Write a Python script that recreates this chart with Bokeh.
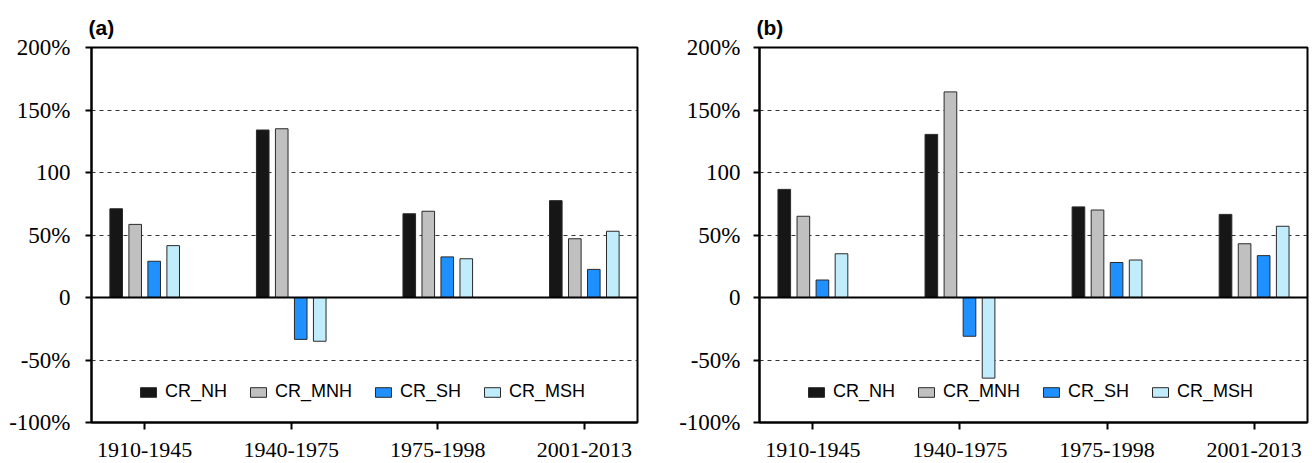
from bokeh.plotting import figure
from bokeh.layouts import row
from bokeh.models import Range1d, FixedTicker, Span, ColumnDataSource
from bokeh.transform import dodge
from bokeh.embed import file_html
from bokeh.resources import INLINE

categories = ["1910-1945", "1940-1975", "1975-1998", "2001-2013"]
series_names = ["CR_NH", "CR_MNH", "CR_SH", "CR_MSH"]
series_colors = ["#161616", "#c0c0c0", "#1e90ff", "#c1ecfb"]

a_nh = [71, 134, 67, 77.5]
a_mnh = [58.5, 135, 69, 47]
a_sh = [29, -33.5, 32.5, 22.5]
a_msh = [41.5, -35, 31, 53]

b_nh = [86.5, 130.5, 72.5, 66.5]
b_mnh = [65, 164.5, 70, 43]
b_sh = [14, -31, 28, 33.5]
b_msh = [35, -64.5, 30, 57]

y_ticks = [-100, -50, 0, 50, 100, 150, 200]
y_tick_labels = ["-100%", "-50%", "0", "50%", "100", "150%", "200%"]
grid_ticks = [-50, 50, 100, 150]

offsets = [-0.1945, -0.0648, 0.0648, 0.1945]
bar_width = 0.086


def make_panel(label, series, left_border, right_border, label_standoff):
    p = figure(width=656, height=463, output_backend="svg", toolbar_location=None,
               x_range=Range1d(-0.363, 3.363), y_range=Range1d(-100, 200),
               min_border_left=left_border, min_border_right=right_border,
               min_border_top=47, min_border_bottom=41,
               background_fill_color="white", border_fill_color="white")
    src = ColumnDataSource(dict(x=list(range(len(categories))),
                                **{n: v for n, v in zip(series_names, series)}))
    for name, col, off in zip(series_names, series_colors, offsets):
        p.vbar(x=dodge("x", off, range=p.x_range), top=name, bottom=0, width=bar_width,
               source=src, fill_color=col, line_color="#2a2a2a", line_width=1,
               legend_label=name)

    # zero line
    p.add_layout(Span(location=0, dimension="width", line_color="black", line_width=2))

    # axes
    p.xaxis.ticker = FixedTicker(ticks=list(range(len(categories))))
    p.xaxis.major_label_overrides = {i: c for i, c in enumerate(categories)}
    p.yaxis.ticker = FixedTicker(ticks=y_ticks)
    p.yaxis.major_label_overrides = dict(zip(y_ticks, y_tick_labels))
    for ax in (p.xaxis[0], p.yaxis[0]):
        ax.axis_line_width = 2
        ax.axis_line_color = "black"
        ax.major_tick_line_color = "black"
        ax.major_tick_line_width = 2
        ax.major_tick_in = 0
        ax.minor_tick_line_color = None
        ax.major_label_text_font = "Liberation Serif"
        ax.major_label_text_color = "black"
    p.xaxis.major_label_text_font_size = "22px"
    p.yaxis.major_label_text_font_size = "23px"
    p.xaxis.major_tick_out = 7
    p.xaxis.major_label_standoff = 13
    p.yaxis.major_tick_out = 6
    p.yaxis.major_label_standoff = label_standoff

    # grid
    p.xgrid.grid_line_color = None
    p.ygrid.ticker = FixedTicker(ticks=grid_ticks)
    p.ygrid.grid_line_color = "#333333"
    p.ygrid.grid_line_dash = "4 4"
    p.ygrid.grid_line_width = 1

    p.outline_line_color = "black"
    p.outline_line_width = 2
    p.outline_line_alpha = 1

    # legend
    lg = p.legend[0]
    lg.orientation = "horizontal"
    lg.location = (47, 20)
    lg.padding = 0
    lg.margin = 0
    lg.spacing = 21
    lg.label_standoff = 7
    lg.glyph_width = 20
    lg.glyph_height = 12
    lg.border_line_alpha = 0
    lg.background_fill_alpha = 0
    lg.label_text_font = "Liberation Sans"
    lg.label_text_font_size = "18px"
    lg.label_text_color = "black"

    # panel label
    p.title.text = label
    p.title.align = "left"
    p.title.offset = -3
    p.title.text_font = "Liberation Sans"
    p.title.text_font_style = "bold"
    p.title.text_font_size = "21px"
    p.title.text_color = "black"
    p.title.standoff = 17
    return p


pa = make_panel("(a)", [a_nh, a_mnh, a_sh, a_msh], 91, 19, 15)
pb = make_panel("(b)", [b_nh, b_mnh, b_sh, b_msh], 103, 5, 13)

layout = row(pa, pb)
open("out.html", "w").write(file_html(layout, INLINE))
